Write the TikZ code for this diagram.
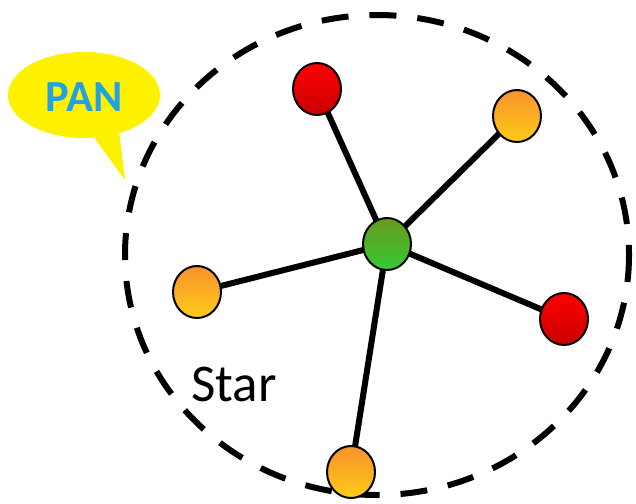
\documentclass[tikz,border=0pt]{standalone}
\usepackage{fontspec}
\setmainfont{Carlito}
\usetikzlibrary{shapes.geometric,backgrounds}
\definecolor{panblue}{HTML}{22A2E4}
\definecolor{orTop}{HTML}{F8922E}
\definecolor{orBot}{HTML}{FFCC14}
\definecolor{rdTop}{HTML}{FF0000}
\definecolor{rdBot}{HTML}{C80000}
\definecolor{grTop}{HTML}{6A981E}
\definecolor{grBot}{HTML}{34CC33}
\tikzset{
  dev/.style={ellipse, draw=black, line width=2pt, minimum width=48pt, minimum height=52pt, inner sep=0pt},
  orangedev/.style={dev, top color=orTop, bottom color=orBot},
  reddev/.style={dev, top color=rdTop, bottom color=rdBot},
  greendev/.style={dev, top color=grTop, bottom color=grBot},
  link/.style={line width=6pt, black},
  boundary/.style={line width=6pt, black, dash pattern=on 27pt off 21pt}
}
\begin{document}
\begin{tikzpicture}[x=1pt,y=-1pt]
\useasboundingbox (0,0) rectangle (636,503);
% bubble
\fill[yellow] (84,95) ellipse [x radius=76, y radius=43];
\fill[yellow] (90,132) -- (125,180) -- (119,130) -- cycle;
\node[anchor=base, inner sep=0pt, text=panblue, font=\fontsize{44.5}{45}\selectfont\bfseries] (pan) at (84,111) {PAN};
% devices
\node[greendev] (c) at (387,244) {};
\node[reddev] (n1) at (317,89) {};
\node[orangedev] (n2) at (517,116) {};
\node[reddev] (n3) at (564,319) {};
\node[orangedev] (n4) at (351,472) {};
\node[orangedev] (n5) at (197,292) {};
\node[anchor=base west, inner sep=0pt, font=\fontsize{53}{55}\selectfont] (star) at (191,401) {Star};
\begin{pgfonlayer}{background}
\draw[boundary] (377,255) ellipse [x radius=252, y radius=240];
\draw[link] (c.center) -- (n1.center);
\draw[link] (c.center) -- (n2.center);
\draw[link] (c.center) -- (n3.center);
\draw[link] (c.center) -- (n4.center);
\draw[link] (c.center) -- (n5.center);
\end{pgfonlayer}
\end{tikzpicture}
\end{document}
